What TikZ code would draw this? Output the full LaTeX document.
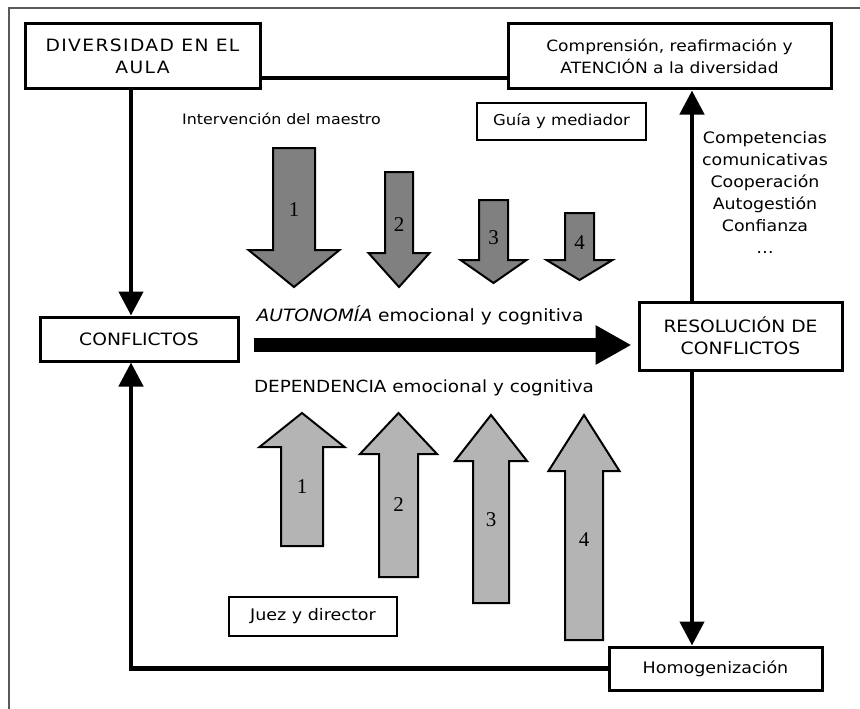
\documentclass[tikz,border=0pt]{standalone}
\usepackage{fontspec}
\setmainfont{DejaVu Sans}[FakeStretch=1.1]
\newfontfamily\numfont{Liberation Serif}
\newfontfamily\spacedfont{DejaVu Sans}[FakeStretch=1.1, LetterSpace=8]
\usetikzlibrary{arrows.meta}
\definecolor{dkgray}{RGB}{128,128,128}
\definecolor{ltgray}{RGB}{180,180,180}
\definecolor{framegray}{RGB}{90,90,90}
\tikzset{
  thickbox/.style={draw, line width=3pt, minimum width=#1, inner sep=0pt, align=center, font=\fontsize{17}{22}\selectfont},
  thinbox/.style={draw, line width=1.4pt, minimum width=#1, inner sep=0pt, align=center, font=\fontsize{15.5}{18}\selectfont},
  conn/.style={line width=4.5pt, -{Triangle[length=24pt,width=24pt]}},
  plainconn/.style={line width=4.5pt},
  blk/.style={draw, line width=2pt, line join=miter},
  num/.style={font=\numfont\fontsize{21}{21}\selectfont},
  lbl/.style={font=\fontsize{14.4}{16}\selectfont, inner sep=0pt},
}
\newcommand{\blockarr}[9]{%
  \draw[blk, fill=\blkfill] ({#2-#3},#5) -- ({#2+#3},#5) -- ({#2+#3},#6) -- ({#2+#4},#6) -- (#2,#7) -- ({#2-#4},#6) -- ({#2-#3},#6) -- cycle;
  \node[num] (#1) at (#2,#9) {#8};
}
\begin{document}
\begin{tikzpicture}[x=1pt,y=-1pt]
\useasboundingbox (0,0) rectangle (860,709);
\fill[white] (0,0) rectangle (860,709);
% outer frame (partly cut)
\draw[framegray, line width=2pt] (9,709) -- (9,8) -- (860,8);

% boxes
\node[thickbox=235pt, minimum height=65pt, font=\spacedfont\fontsize{17}{22}\selectfont] (div) at (142.5,56.5) {DIVERSIDAD EN EL\\AULA};
\node[thickbox=323pt, minimum height=65pt, font=\fontsize{15.5}{22}\selectfont] (comp) at (669.5,56.5) {Comprensión, reafirmación y\\ATENCIÓN a la diversidad};
\node[thinbox=169pt, minimum height=37pt, font=\fontsize{15}{18}\selectfont] (guia) at (561.5,121.5) {Guía y mediador};
\node[thickbox=198pt, minimum height=44pt] (conf) at (139,339) {CONFLICTOS};
\node[thickbox=203pt, minimum height=68pt] (res) at (740.5,336) {RESOLUCIÓN DE\\CONFLICTOS};
\node[thickbox=213pt, minimum height=43pt, font=\fontsize{15.9}{18}\selectfont] (homo) at (715.5,668.5) {Homogenización};
\node[thinbox=168pt, minimum height=39pt, font=\fontsize{15.9}{18}\selectfont] (juez) at (313,616.5) {Juez y director};

% texts
\node[lbl] (interv) at (281.5,119) {Intervención del maestro};
\node[lbl, font=\fontsize{17}{18}\selectfont] (auto) at (420,315) {\textit{AUTONOMÍA} emocional y cognitiva};
\node[lbl, font=\fontsize{16.7}{18}\selectfont] (dep) at (424,388) {DEPENDENCIA emocional y cognitiva};
\node[lbl, align=center, font=\fontsize{15.8}{22}\selectfont] (comps) at (765,192) {Competencias\\comunicativas\\Cooperación\\Autogestión\\Confianza\\\dots};

% connectors
\coordinate (xa) at (131,0);
\coordinate (xr) at (692,0);
\coordinate (ya) at (0,78);
\coordinate (yb) at (0,345);
\draw[plainconn] (div.east |- ya) -- (comp.west |- ya);
\draw[conn] (div.south -| xa) -- (conf.north -| xa);
\draw[conn] (homo.west) -| (conf.south -| xa);
\draw[conn] (res.north -| xr) -- (comp.south -| xr);
\draw[conn] (res.south -| xr) -- (homo.north -| xr);
\draw[line width=14pt, -{Triangle[length=36pt,width=37pt]}] ([xshift=14pt]conf.east |- yb) -- ([xshift=-6pt]res.west |- yb);

% block arrows down
\def\blkfill{dkgray}
\blockarr{d1}{294}{21}{45.5}{148}{250}{287}{1}{210}
\blockarr{d2}{399}{14}{30.5}{172}{253}{287}{2}{225}
\blockarr{d3}{493.5}{14.5}{33}{200}{260}{283}{3}{238}
\blockarr{d4}{579.5}{14.5}{33}{213}{260}{280}{4}{243}
% block arrows up
\def\blkfill{ltgray}
\blockarr{u1}{302}{21}{42.5}{546}{447}{413}{1}{487}
\blockarr{u2}{398.5}{19.5}{38.5}{577}{454}{413}{2}{505}
\blockarr{u3}{491}{18}{36}{603}{461}{415}{3}{520}
\blockarr{u4}{584}{19}{35.5}{640}{471}{415}{4}{540}
\end{tikzpicture}
\end{document}
